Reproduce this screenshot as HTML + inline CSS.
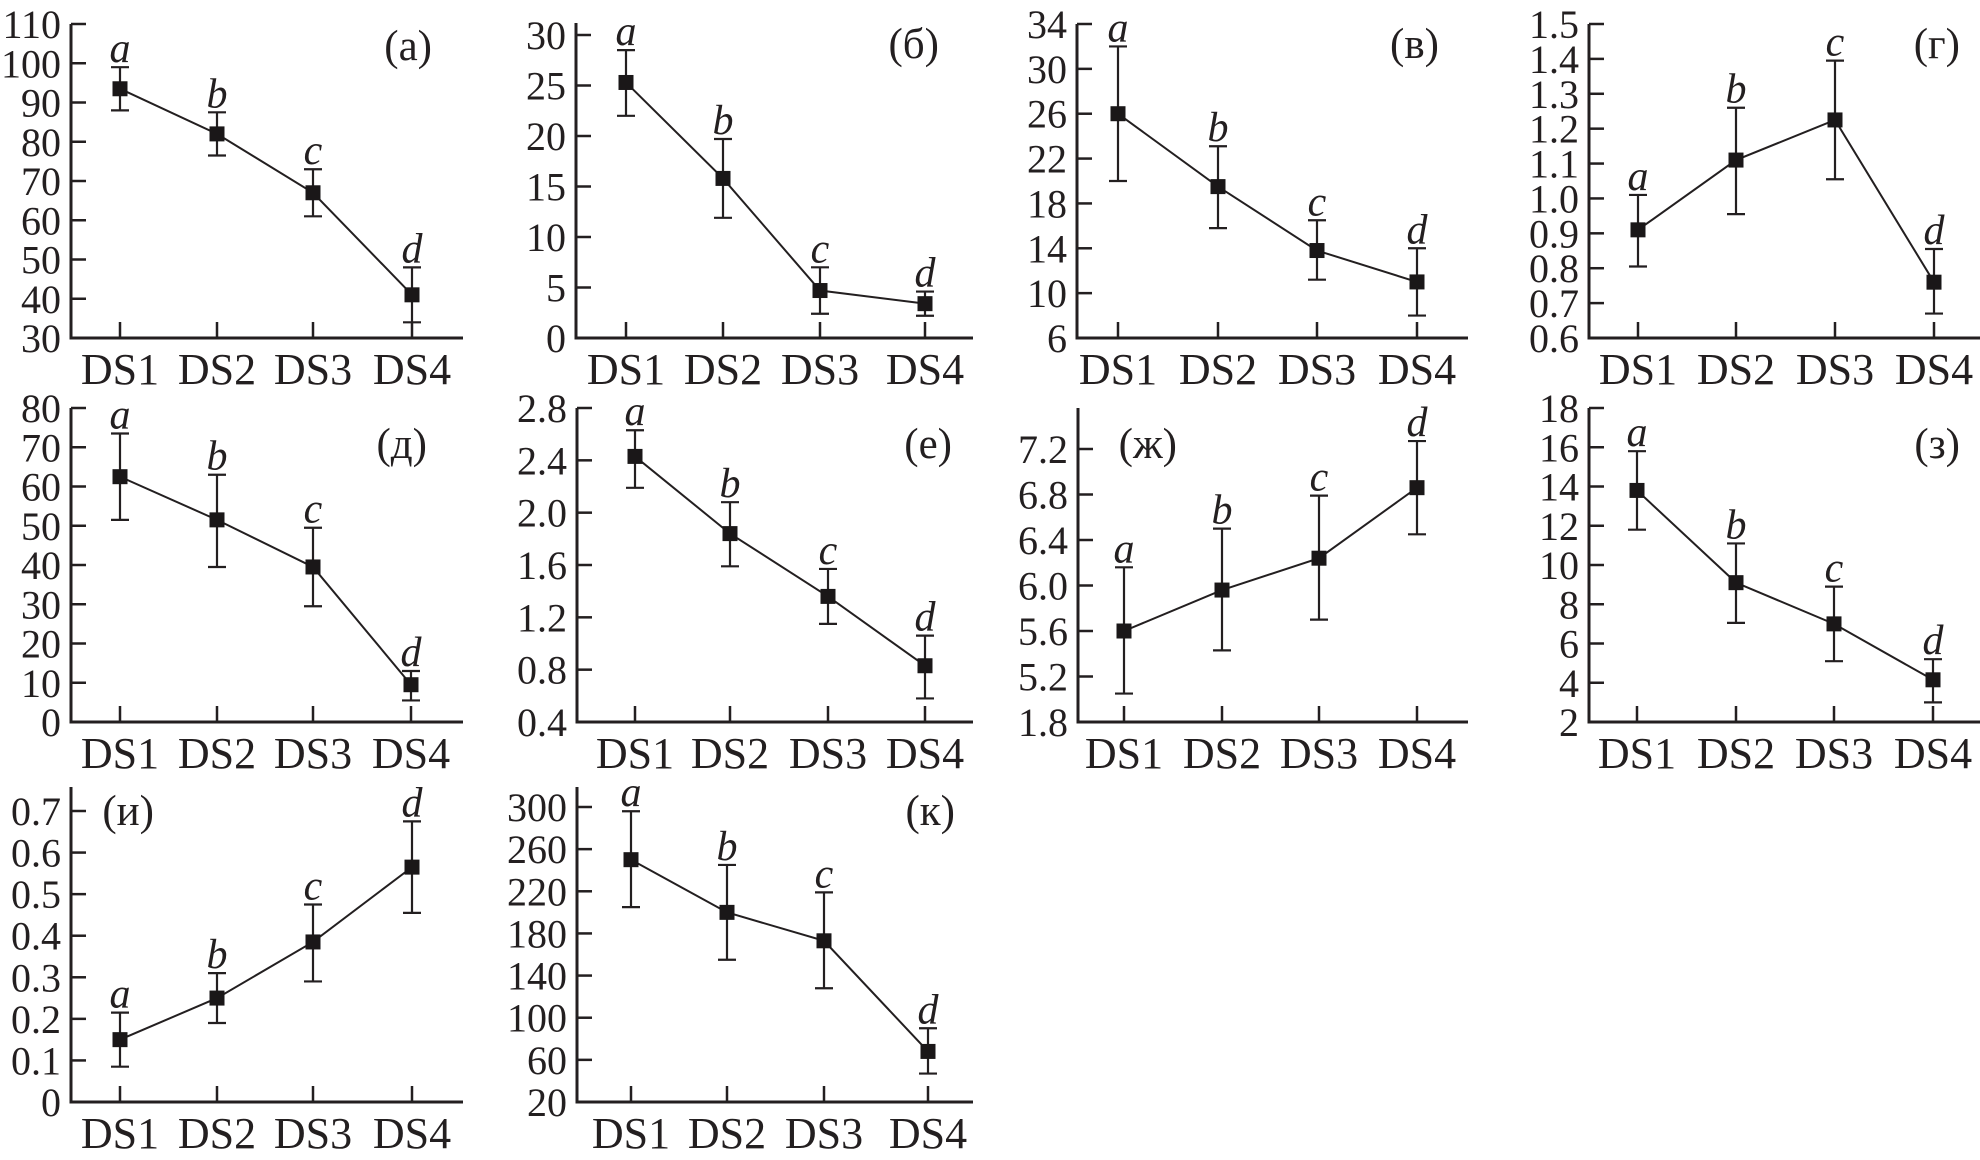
<!DOCTYPE html>
<html><head><meta charset="utf-8">
<style>
html,body{margin:0;padding:0;background:#fff;}
svg{display:block;}
text{font-family:"Liberation Serif","DejaVu Serif",serif;fill:#231f20;}
</style></head>
<body>
<svg id="fig" width="1980" height="1160" viewBox="0 0 1980 1160" xmlns="http://www.w3.org/2000/svg"></svg>
<script>
const categories = ["DS1","DS2","DS3","DS4"];
const groupLetters = ["a","b","c","d"];

const meanA = [93.5, 82, 67, 41];
const loA = [88, 76.5, 61, 34];
const hiA = [99, 87.5, 73, 48];
const ticksA = [30,40,50,60,70,80,90,100,110];

const meanB = [25.3, 15.8, 4.7, 3.4];
const loB = [22, 11.9, 2.4, 2.2];
const hiB = [28.5, 19.7, 7, 4.6];
const ticksB = [0,5,10,15,20,25,30];

const meanV = [26, 19.5, 13.8, 11];
const loV = [20, 15.8, 11.2, 8];
const hiV = [32, 23.1, 16.5, 14];
const ticksV = [6,10,14,18,22,26,30,34];

const meanG = [0.91, 1.11, 1.225, 0.76];
const loG = [0.805, 0.955, 1.055, 0.67];
const hiG = [1.01, 1.26, 1.395, 0.855];
const ticksG = [0.6,0.7,0.8,0.9,1.0,1.1,1.2,1.3,1.4,1.5];
const tickLabelsG = ["0.6","0.7","0.8","0.9","1.0","1.1","1.2","1.3","1.4","1.5"];

const meanD = [62.5, 51.5, 39.5, 9.5];
const loD = [51.5, 39.5, 29.5, 5.5];
const hiD = [73.5, 63, 49.5, 13];
const ticksD = [0,10,20,30,40,50,60,70,80];

const meanE = [2.43, 1.84, 1.36, 0.83];
const loE = [2.19, 1.59, 1.15, 0.58];
const hiE = [2.63, 2.08, 1.57, 1.06];
const ticksE = [0.4,0.8,1.2,1.6,2.0,2.4,2.8];
const tickLabelsE = ["0.4","0.8","1.2","1.6","2.0","2.4","2.8"];

const meanZh = [5.6, 5.96, 6.24, 6.86];
const loZh = [5.05, 5.43, 5.7, 6.45];
const hiZh = [6.16, 6.5, 6.79, 7.27];
const ticksZh = [4.8,5.2,5.6,6.0,6.4,6.8,7.2];
const tickLabelsZh = ["1.8","5.2","5.6","6.0","6.4","6.8","7.2"];

const meanZ = [13.8, 9.1, 7.0, 4.15];
const loZ = [11.8, 7.05, 5.1, 3.0];
const hiZ = [15.8, 11.1, 8.9, 5.2];
const ticksZ = [2,4,6,8,10,12,14,16,18];

const meanI = [0.15, 0.25, 0.385, 0.565];
const loI = [0.085, 0.19, 0.29, 0.455];
const hiI = [0.215, 0.31, 0.475, 0.675];
const ticksI = [0,0.1,0.2,0.3,0.4,0.5,0.6,0.7];

const meanK = [250, 200, 173, 68];
const loK = [205, 155, 128, 47];
const hiK = [296, 245, 219, 90];
const ticksK = [20,60,100,140,180,220,260,300];

const svg = document.getElementById('fig');
const NS = 'http://www.w3.org/2000/svg';
function mk(tag, attrs, parent){
  const e = document.createElementNS(NS, tag);
  for (const k in attrs) e.setAttribute(k, attrs[k]);
  (parent||svg).appendChild(e);
  return e;
}

const panels = [
  {id:'a', mean:meanA, lo:loA, hi:hiA, ticks:ticksA, labels:null, ax:71, by:338, vmin:30, vtop:110, ytop:24, atop:24, xs:[120,217,313,412], xr:463, lab:'(a)', lx:432, ly:60},
  {id:'b', mean:meanB, lo:loB, hi:hiB, ticks:ticksB, labels:null, ax:576, by:338, vmin:0, vtop:30, ytop:35, atop:23, xs:[626,723,820,925], xr:973, lab:'(б)', lx:939, ly:58},
  {id:'v', mean:meanV, lo:loV, hi:hiV, ticks:ticksV, labels:null, ax:1077, by:338, vmin:6, vtop:34, ytop:24, atop:24, xs:[1118,1218,1317,1417], xr:1468, lab:'(в)', lx:1439, ly:58},
  {id:'g', mean:meanG, lo:loG, hi:hiG, ticks:ticksG, labels:tickLabelsG, ax:1589, by:338, vmin:0.6, vtop:1.5, ytop:24, atop:24, xs:[1638,1736,1835,1934], xr:1980, lab:'(г)', lx:1960, ly:58},
  {id:'d', mean:meanD, lo:loD, hi:hiD, ticks:ticksD, labels:null, ax:71, by:722, vmin:0, vtop:80, ytop:408, atop:408, xs:[120,217,313,411], xr:463, lab:'(д)', lx:427, ly:458},
  {id:'e', mean:meanE, lo:loE, hi:hiE, ticks:ticksE, labels:tickLabelsE, ax:577, by:722, vmin:0.4, vtop:2.8, ytop:408, atop:408, xs:[635,730,828,925], xr:973, lab:'(е)', lx:952, ly:458},
  {id:'zh', mean:meanZh, lo:loZh, hi:hiZh, ticks:ticksZh, labels:tickLabelsZh, ax:1078, by:722, vmin:4.8, vtop:7.2, ytop:449, atop:408, xs:[1124,1222,1319,1417], xr:1468, lab:'(ж)', lx:1177, ly:458},
  {id:'z', mean:meanZ, lo:loZ, hi:hiZ, ticks:ticksZ, labels:null, ax:1589, by:722, vmin:2, vtop:18, ytop:408, atop:408, xs:[1637,1736,1834,1933], xr:1980, lab:'(з)', lx:1960, ly:458},
  {id:'i', mean:meanI, lo:loI, hi:hiI, ticks:ticksI, labels:null, ax:71, by:1102, vmin:0, vtop:0.7, ytop:811, atop:787, xs:[120,217,313,412], xr:463, lab:'(и)', lx:154, ly:825},
  {id:'k', mean:meanK, lo:loK, hi:hiK, ticks:ticksK, labels:null, ax:577, by:1102, vmin:20, vtop:300, ytop:807, atop:787, xs:[631,727,824,928], xr:973, lab:'(к)', lx:955, ly:825}
];

panels.forEach(p => {
  const g = mk('g', {});
  
  
  const yScale = v => p.by - (v - p.vmin) / (p.vtop - p.vmin) * (p.by - p.ytop);

  const ya = mk('line', {x1:p.ax, y1:p.atop, x2:p.ax, y2:p.by+1.5, stroke:'#231f20', 'stroke-width':3}, g);
  
  
  const xa = mk('line', {x1:p.ax-1.5, y1:p.by, x2:p.xr, y2:p.by, stroke:'#231f20', 'stroke-width':3}, g);
  
  

  p.ticks.forEach((t, i) => {
    const y = yScale(t);
    if (Math.abs(y - p.by) > 1) {
      const tl = mk('line', {x1:p.ax, y1:y, x2:p.ax+15, y2:y, stroke:'#231f20', 'stroke-width':2.5}, g);
      
      
    }
    const tx = mk('text', {x:p.ax-10, y:y+14, 'text-anchor':'end', 'font-size':40}, g);
    
    
    tx.textContent = p.labels ? p.labels[i] : String(t);
  });

  categories.forEach((c, i) => {
    const x = p.xs[i];
    const tl = mk('line', {x1:x, y1:p.by, x2:x, y2:p.by-16, stroke:'#231f20', 'stroke-width':2.5}, g);
    
    
    const tx = mk('text', {x:x, y:p.by+46, 'text-anchor':'middle', 'font-size':44}, g);
    
    
    tx.textContent = c;
  });

  const pts = p.mean.map((v, i) => p.xs[i] + ',' + yScale(v)).join(' ');
  const pl = mk('polyline', {points:pts, fill:'none', stroke:'#231f20', 'stroke-width':2}, g);
  
  

  p.mean.forEach((v, i) => {
    const x = p.xs[i];
    const yl = yScale(p.lo[i]), yh = yScale(p.hi[i]), ym = yScale(v);
    const eb = mk('path', {d:'M'+x+','+yl+'V'+yh+'M'+(x-9)+','+yh+'H'+(x+9)+'M'+(x-9)+','+yl+'H'+(x+9), stroke:'#231f20', 'stroke-width':2.2, fill:'none'}, g);
    
    
    const m = mk('rect', {x:x-7.5, y:ym-7.5, width:15, height:15, fill:'#1a1718'}, g);
    
    
    const lt = mk('text', {x:x, y:yh-5, 'text-anchor':'middle', 'font-size':42, 'font-style':'italic'}, g);
    
    
    lt.textContent = groupLetters[i];
  });

  const pt = mk('text', {x:p.lx, y:p.ly, 'text-anchor':'end', 'font-size':43}, g);
  
  
  pt.textContent = p.lab;
});
</script>
</body></html>
